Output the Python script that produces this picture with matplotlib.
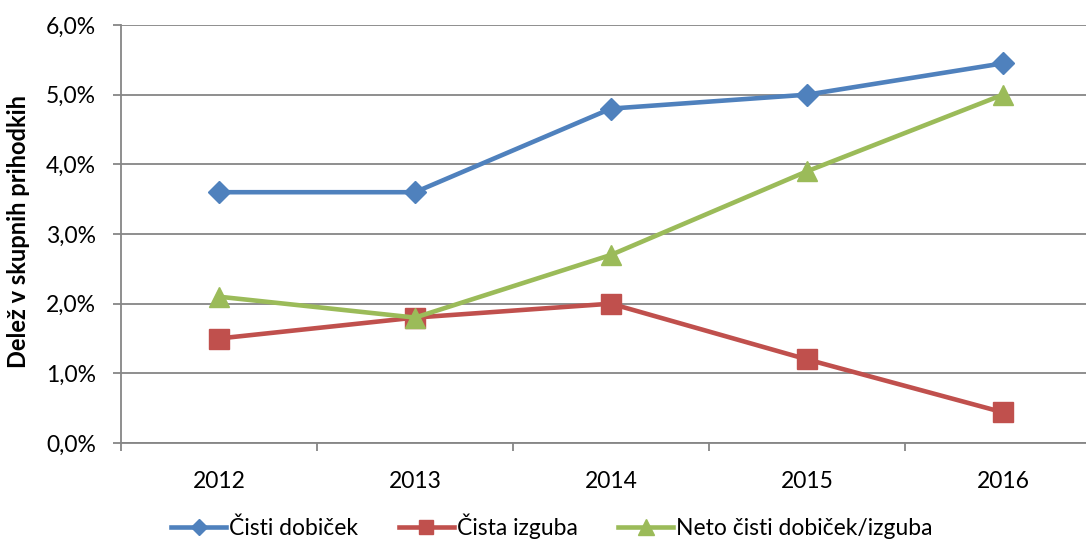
"""
delez cistega dobicka / izgube v skupnih prihodkih
"""
import matplotlib
matplotlib.use('Agg')
import matplotlib.pyplot as plt
from matplotlib.ticker import FuncFormatter, FixedLocator

years = ['2012', '2013', '2014', '2015', '2016']
cistiDobicek = [3.6, 3.6, 4.8, 5.0, 5.45]
cistaIzguba = [1.5, 1.8, 2.0, 1.2, 0.44]
netoDobicek = [2.1, 1.8, 2.7, 3.9, 5.0]

names = ['Čisti dobiček', 'Čista izguba', 'Neto čisti dobiček/izguba']

plt.rcParams['font.family'] = ['Lato', 'DejaVu Sans']

fig = plt.figure(figsize=(10.86, 5.42), dpi=100)
# axes goes past the right edge like in the original (cropped)
ax = fig.add_axes([121/1086, (542-443)/542, 980/1086, 418/542])

x = range(len(years))
gridCol = '#868686'
fs = 16.5

# horizontal gridlines
for v in range(0, 7):
    ax.axhline(v, color=gridCol, lw=1.3, zorder=1)

# the three series
ax.plot(x, cistiDobicek, color='#4F81BD', lw=3.3, marker='D', ms=11, label=names[0], zorder=3)
ax.plot(x, cistaIzguba, color='#C0504D', lw=3.3, marker='s', ms=14, label=names[1], zorder=3)
ax.plot(x, netoDobicek, color='#9BBB59', lw=3.3, marker='^', ms=15, label=names[2], zorder=3)

ax.set_xlim(-0.5, 4.5)
ax.set_ylim(0, 6)

ax.set_xticks(list(x))
ax.set_xticklabels(years)
ax.xaxis.set_minor_locator(FixedLocator([-0.5, 0.5, 1.5, 2.5, 3.5, 4.5]))
ax.tick_params(axis='x', which='major', length=0, pad=20, labelsize=fs)
ax.tick_params(axis='x', which='minor', length=6, width=1.3, color=gridCol, direction='out')

ax.set_yticks(range(0, 7))
ax.yaxis.set_major_formatter(FuncFormatter(lambda v, p: f'{v:.1f}%'.replace('.', ',')))
ax.tick_params(axis='y', length=6, width=1.3, color=gridCol, direction='out', pad=12, labelsize=fs)

for s in ['top', 'right']:
    ax.spines[s].set_visible(False)
for s in ['left', 'bottom']:
    ax.spines[s].set_color(gridCol)
    ax.spines[s].set_linewidth(1.3)

fig.text(19/1086, 1-232/542, 'Delež v skupnih prihodkih', rotation=90, fontsize=17,
         fontweight='bold', ha='center', va='center')

leg = fig.legend(loc='center', bbox_to_anchor=(552/1086, 1-526/542), ncol=3, frameon=False,
                 fontsize=fs, handlelength=2.4, handletextpad=0.15, columnspacing=1.75,
                 markerscale=0.75, borderpad=0.2)

plt.savefig('out.png', dpi=100)
